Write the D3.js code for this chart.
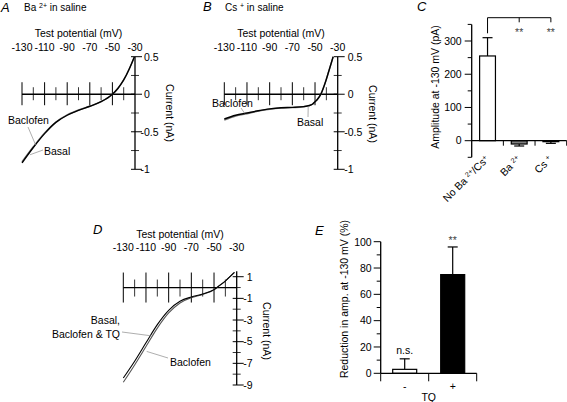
<!DOCTYPE html>
<html><head><meta charset="utf-8">
<script src="https://cdn.jsdelivr.net/npm/d3@7"></script>
<style>
body{margin:0;background:#fff;}
svg{display:block;font-family:"Liberation Sans",Arial,sans-serif;}
</style></head><body>
<svg id="c" width="567" height="402"></svg>
<script>
// ---------- DATA ----------
const voltTicks = [-130,-110,-90,-70,-50,-30];
const voltTickLabels = ["-130","-110","-90","-70","-50","-30"];
const voltMinor = [-120,-100,-80,-60,-40];

const abCurrentTicks = [0.5,0,-0.5,-1];
const abCurrentLabels = ["0.5","0","-0.5","-1"];
const abCurrentMinor = [0.25,-0.25,-0.75];

const dCurrentTicks = [1,-1,-3,-5,-7,-9];
const dCurrentLabels = ["1","-1","-3","-5","-7","-9"];
const dCurrentMinor = [0,-2,-4,-6,-8];

// Panel A (Ba2+ in saline)
const aVolt     = [-130,-120,-110,-100,-90,-80,-70,-60,-50,-45,-40,-35,-30.5];
const aBasal    = [-0.915,-0.71,-0.525,-0.375,-0.28,-0.215,-0.16,-0.10,0.0,0.08,0.19,0.34,0.5];
const aBaclofen = [-0.90,-0.70,-0.515,-0.37,-0.275,-0.21,-0.16,-0.10,0.0,0.08,0.19,0.34,0.5];

// Panel B (Cs+ in saline)
const bVolt     = [-130,-120,-110,-100,-90,-80,-70,-60,-55,-52,-50,-48,-46,-44,-42,-40,-38,-36,-34];
const bBasal    = [-0.33,-0.28,-0.25,-0.22,-0.195,-0.18,-0.175,-0.165,-0.15,-0.13,-0.10,-0.07,-0.03,0.03,0.11,0.20,0.30,0.40,0.50];
const bBaclofen = [-0.345,-0.29,-0.26,-0.225,-0.2,-0.185,-0.178,-0.167,-0.152,-0.13,-0.10,-0.07,-0.03,0.03,0.11,0.20,0.30,0.40,0.50];

// Panel D
const dVolt     = [-130,-120,-110,-100,-90,-80,-70,-60,-50,-45,-40,-35,-32];
const dBasal    = [-8.35,-6.8,-5.1,-3.42,-2.1,-1.27,-0.87,-0.6,-0.19,0.2,0.6,1.1,1.4];
const dBaclofen = [-8.75,-7.15,-5.45,-3.75,-2.35,-1.42,-0.95,-0.63,-0.2,0.2,0.6,1.1,1.4];

// Panel C
const cCategories = ["No Ba2+/Cs+","Ba2+","Cs+"];
const cMeans  = [255,-10,-3];
const cErrors = [55,6,5];
const cTicks = [0,100,200,300];
const cMinor = [-50,50,150,250,350];

// Panel E
const eCategories = ["-","+"];
const eMeans  = [3,75];
const eErrors = [8,21];
const eTicks = [0,20,40,60,80,100];
const eMinor = [10,30,50,70,90];

// ---------- DRAW ----------
const svg = d3.select("#c");
const FS = 10.5;

function txt(x,y,s,opt={}){
  const t = svg.append("text").attr("x",x).attr("y",y).attr("font-size",opt.fs||FS)
    .attr("fill",opt.fill||"#000").attr("text-anchor",opt.anchor||"start");
  if(opt.italic) t.attr("font-style","italic");
  if(opt.transform) t.attr("transform",opt.transform);
  if(opt.db) t.attr("dominant-baseline",opt.db);
  t.text(s);
  return t;
}
function sup(t, parts){ // parts: [text, isSup]
  parts.forEach(([s,isSup])=>{
    const ts = t.append("tspan").text(s);
    if(isSup){ ts.attr("font-size",7).attr("baseline-shift","super"); }
  });
}
function line(x1,y1,x2,y2,col="#000",w=1.2){
  svg.append("line").attr("x1",x1).attr("y1",y1).attr("x2",x2).attr("y2",y2)
    .attr("stroke",col).attr("stroke-width",w);
}

function ivPanel(cfg){
  const x = d3.scaleLinear().domain([-130,-30]).range(cfg.xr);
  const y = d3.scaleLinear().domain(cfg.yd).range(cfg.yr);
  const y0 = y(0), ax = x(-30);
  // x axis line
  line(x(-130),y0,ax,y0,"#000",1.3);
  voltTicks.slice(0,5).forEach(v=>line(x(v),y0-cfg.maj[0],x(v),y0+cfg.maj[1],"#000",1));
  voltMinor.forEach(v=>line(x(v),y0-cfg.min[0],x(v),y0+cfg.min[1],"#000",0.8));
  voltTicks.forEach((v,i)=>txt(x(v),cfg.tickY,voltTickLabels[i],{anchor:"middle"}));
  txt((x(-130)+ax)/2,cfg.titleY,"Test potential (mV)",{anchor:"middle"});
  // y axis
  line(ax,y(cfg.yd[0]),ax,y(cfg.yd[1]),"#000",1.3);
  cfg.yt.forEach((v,i)=>{
    line(ax-4,y(v),ax+7,y(v),"#000",1);
    const lab = cfg.yl[i];
    txt(ax+cfg.labDx-(lab[0]==="-"?3.5:0),y(v)+3.8,lab);
  });
  cfg.ym.forEach(v=>line(ax-4,y(v),ax+4,y(v),"#000",0.8));
  txt(cfg.curX,cfg.curY,"Current (nA)",{anchor:"middle",transform:`rotate(90,${cfg.curX},${cfg.curY})`,db:"central"});
  const gen = d3.line().x(d=>x(d[0])).y(d=>y(d[1])).curve(d3.curveMonotoneX);
  const bac = cfg.volt.map((v,i)=>[v,cfg.bac[i]]);
  const bas = cfg.volt.map((v,i)=>[v,cfg.bas[i]]);
  svg.append("path").attr("d",gen(bac)).attr("fill","none").attr("stroke",cfg.bacCol).attr("stroke-width",cfg.lw);
  svg.append("path").attr("d",gen(bas)).attr("fill","none").attr("stroke","#000").attr("stroke-width",cfg.lw);
  return {x,y};
}

// Panel A
txt(1,12,"A",{fs:13,italic:true});
sup(txt(24,10.5,"",{fs:10}),[["Ba ",false],["2+",true],[" in saline",false]]);
const A = ivPanel({xr:[22,135],yd:[-1,0.5],yr:[169.3,56.7],maj:[12,11],min:[7,6],tickY:51,titleY:37,
  yt:abCurrentTicks,yl:abCurrentLabels,ym:abCurrentMinor,labDx:9,curX:170,curY:113,
  volt:aVolt,bas:aBasal,bac:aBaclofen,bacCol:"#777",lw:1.4});
txt(8,124,"Baclofen");
line(A.x(-118),A.y(-0.66)+1,28,127,"#999",0.8);
txt(44,155,"Basal");
line(A.x(-123),A.y(-0.78)+2,43,150,"#999",0.8);

// Panel B
txt(203,11,"B",{fs:13,italic:true});
sup(txt(225,10.5,"",{fs:10}),[["Cs ",false],["+",true],[" in saline",false]]);
const B = ivPanel({xr:[224.3,337.7],yd:[-1,0.5],yr:[169.3,56.7],maj:[12,11],min:[7,6],tickY:51,titleY:37,
  yt:abCurrentTicks,yl:abCurrentLabels,ym:abCurrentMinor,labDx:10,curX:373,curY:114,
  volt:bVolt,bas:bBasal,bac:bBaclofen,bacCol:"#777",lw:1.4});
txt(212,107,"Baclofen");
line(B.x(-112),B.y(-0.255),241,108,"#999",0.8);
txt(297,126,"Basal");
line(B.x(-56),B.y(-0.15)+1,308,117,"#999",0.8);

// Panel D
txt(93,234,"D",{fs:13,italic:true});
const D = ivPanel({xr:[123.3,236.7],yd:[-9,1.5],yr:[385,271.3],maj:[15,15],min:[8,9],tickY:251,titleY:237.5,
  yt:dCurrentTicks,yl:dCurrentLabels,ym:dCurrentMinor,labDx:10,curX:267,curY:331,
  volt:dVolt,bas:dBasal,bac:dBaclofen,bacCol:"#555",lw:1.1});
txt(120,324,"Basal,",{anchor:"end"});
txt(120,338,"Baclofen & TQ",{anchor:"end"});
line(122,332,D.x(-106),D.y(-4.45),"#999",0.8);
txt(170,365.5,"Baclofen");
line(168,358,D.x(-112)+3,D.y(-5.9),"#999",0.8);

// Panel C
txt(417,11,"C",{fs:13,italic:true});
const xC = d3.scaleBand().domain(cCategories).range([471.7,566.7]).paddingInner(0.5).paddingOuter(0.25);
const yC = d3.scaleLinear().domain([-50,350]).range([157.3,24.4]);
const axC = 471.7;
cCategories.forEach((c,i)=>{
  const v = cMeans[i];
  svg.append("rect").attr("x",xC(c)).attr("width",xC.bandwidth())
    .attr("y",Math.min(yC(v),yC(0))).attr("height",Math.abs(yC(v)-yC(0)))
    .attr("fill",i===0?"#fff":"#808080").attr("stroke","#000").attr("stroke-width",1.2);
  const cx = xC(c)+xC.bandwidth()/2;
  const e = v>=0 ? v+cErrors[i] : v-cErrors[i];
  line(cx,yC(v),cx,yC(e),"#000",1.2);
  line(cx-5,yC(e),cx+5,yC(e),"#000",1.2);
});
line(axC,yC(0),566.7,yC(0),"#000",1.3);
[1,2,3].forEach(k=>{const bx=471.7+k*xC.step(); line(bx,yC(0),bx,yC(0)+5,"#000",1);});
line(axC,yC(-50),axC,yC(350),"#000",1.3);
cTicks.forEach(v=>{line(axC-7,yC(v),axC,yC(v),"#000",1); txt(axC-10,yC(v)+3.8,String(v),{anchor:"end"});});
cMinor.forEach(v=>line(axC-4,yC(v),axC,yC(v),"#000",1));
txt(435,87,"Amplitude at -130 mV (pA)",{anchor:"middle",transform:"rotate(-90,435,87)",db:"central"});
// bracket
const cc = c=>xC(c)+xC.bandwidth()/2;
line(cc(cCategories[0]),17.7,cc(cCategories[2]),17.7,"#000",1);
line(cc(cCategories[0]),17.7,cc(cCategories[0]),33.3,"#000",1);
line(cc(cCategories[1]),17.7,cc(cCategories[1]),22.3,"#000",1);
line(cc(cCategories[2]),17.7,cc(cCategories[2]),22.3,"#000",1);
txt(cc(cCategories[1]),36,"**",{anchor:"middle",fill:"#444"});
txt(cc(cCategories[2]),36,"**",{anchor:"middle",fill:"#444"});
// rotated category labels
const cLabParts = [[["No Ba ",false],["2+",true],["/Cs",false],["+",true]],[["Ba ",false],["2+",true]],[["Cs ",false],["+",true]]];
cCategories.forEach((c,i)=>{
  const px = cc(c)+2, py = 160;
  const t = txt(px,py,"",{anchor:"end",transform:`rotate(-45,${px},${py})`});
  sup(t,cLabParts[i]);
});

// Panel E
txt(315,235,"E",{fs:13,italic:true});
const xE = d3.scaleBand().domain(eCategories).range([380.7,476.7]).paddingInner(0.5).paddingOuter(0.25);
const yE = d3.scaleLinear().domain([0,100]).range([373.3,241.7]);
const axE = 380.7;
eCategories.forEach((c,i)=>{
  const v = eMeans[i];
  const cx = xE(c)+xE.bandwidth()/2;
  const e = v+eErrors[i];
  line(cx,yE(v),cx,yE(e),"#000",1.2);
  line(cx-5,yE(e),cx+5,yE(e),"#000",1.2);
  svg.append("rect").attr("x",xE(c)).attr("width",xE.bandwidth())
    .attr("y",yE(v)).attr("height",yE(0)-yE(v))
    .attr("fill",i===0?"#fff":"#000").attr("stroke","#000").attr("stroke-width",1.2);
  txt(cx,390,c,{anchor:"middle"});
});
line(axE,yE(0),476.7,yE(0),"#000",1.3);
[0,1,2].forEach(k=>{const bx=380.7+k*xE.step(); line(bx,yE(0),bx,yE(0)+8,"#000",1);});
line(axE,yE(0),axE,yE(100),"#000",1.3);
eTicks.forEach(v=>{line(axE-7,yE(v),axE,yE(v),"#000",1); txt(axE-9,yE(v)+3.8,String(v),{anchor:"end"});});
eMinor.forEach(v=>line(axE-4,yE(v),axE,yE(v),"#000",1));
txt(428.7,400.5,"TQ",{anchor:"middle"});
txt(xE("-")+xE.bandwidth()/2,353.5,"n.s.",{anchor:"middle"});
txt(xE("+")+xE.bandwidth()/2,243.5,"**",{anchor:"middle",fill:"#444"});
txt(344,299,"Reduction in amp. at -130 mV (%)",{anchor:"middle",transform:"rotate(-90,344,299)",db:"central"});
</script>
</body></html>
